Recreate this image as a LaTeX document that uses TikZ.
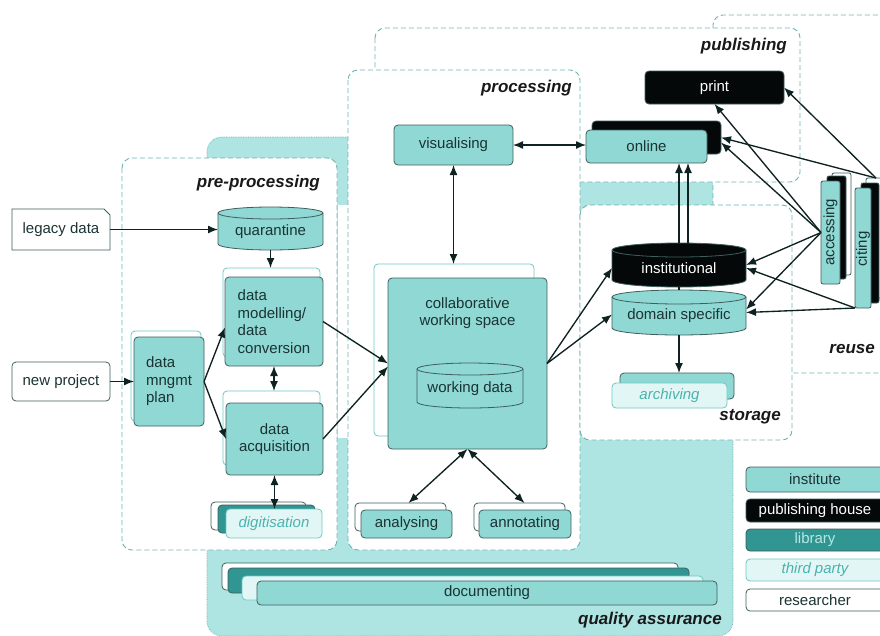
\documentclass[tikz,border=0pt]{standalone}
\usepackage{fontspec}
\setmainfont{Liberation Sans}
\usetikzlibrary{arrows.meta,calc}
\definecolor{inst}{HTML}{8FD8D4}
\definecolor{qa}{HTML}{AEE4E2}
\definecolor{lib}{HTML}{319592}
\definecolor{libtext}{HTML}{B5E8E5}
\definecolor{tpfill}{HTML}{E2F6F5}
\definecolor{tpline}{HTML}{6CCAC6}
\definecolor{tptext}{HTML}{4BB3AF}
\definecolor{bord}{HTML}{3E5F5E}
\definecolor{dashc}{HTML}{6FB3B1}
\definecolor{txt}{HTML}{1A3333}
\definecolor{arr}{HTML}{0F2222}
\definecolor{pub}{HTML}{050808}
\newcommand\fs{\fontsize{15}{17.5}\selectfont}
\newcommand\fl{\fontsize{17}{20}\selectfont}
\newcommand\bx[6]{\node[#1,minimum width={#4-#2},minimum height={#5-#3}] (#6) at ({(#2+#4)/2},{(#3+#5)/2})}
\newcommand\cyl[9]{%
 \filldraw[#1] (#2,{#3+#6}) -- (#2,{#5-#6}) arc[start angle=180,end angle=0,x radius={(#4-#2)/2},y radius=#6] -- (#4,{#3+#6}) arc[start angle=0,end angle=-180,x radius={(#4-#2)/2},y radius=#6] -- cycle;
 \draw[#1,fill=none] (#2,{#3+#6}) arc[start angle=180,end angle=0,x radius={(#4-#2)/2},y radius=#6];
 \node[inner sep=0pt,outer sep=0pt,minimum width={#4-#2},minimum height={#5-#3}] (#7) at ({(#2+#4)/2},{(#3+#5)/2}) {};
 \node[#8] (#7-t) at ({(#2+#4)/2},{(#3+#5)/2+#6/2}) {#9};
}
\tikzset{
 box/.style={draw=bord,line width=0.8pt,rounded corners=4pt,inner sep=0pt,outer sep=0pt,text=txt,font=\fs,align=center},
 institute/.style={box,fill=inst},
 publisher/.style={box,fill=pub,text=white},
 library/.style={box,fill=lib,text=libtext},
 thirdparty/.style={box,fill=tpfill,draw=tpline,text=tptext,font=\fs\itshape},
 researcher/.style={box,fill=white},
 backbox/.style={box,fill=white,draw=tpline},
 container/.style={draw=dashc,dash pattern=on 5pt off 3pt,line width=0.9pt,fill=white,rounded corners=10pt},
 qaregion/.style={fill=qa,draw=dashc,densely dotted,line width=0.7pt,rounded corners=15pt},
 clabel/.style={font=\fl\bfseries\itshape,text=black!90,anchor=east,inner sep=0pt},
 txtnode/.style={inner sep=0pt,outer sep=0pt,text=txt,font=\fs,align=center},
 cylI/.style={fill=inst,draw=bord,line width=0.8pt},
 cylP/.style={fill=pub,draw=bord,line width=0.8pt},
 conn/.style={draw=arr,line width=1.35pt,-{Latex[length=10pt,width=8pt]}},
 dconn/.style={conn,{Latex[length=10pt,width=8pt]}-{Latex[length=10pt,width=8pt]}},
 plainconn/.style={draw=arr,line width=1.35pt}
}
\begin{document}
\begin{tikzpicture}[x=1pt,y=-1pt]
\useasboundingbox[fill=white] (0,0) rectangle (880,635);
% regions
\draw[qaregion] (207,137) rectangle (733,636);
\fill[white] (337.5,205) rectangle (347.5,438);
\draw[container] (713,15) rectangle (905,373);
\draw[container] (375,28) rectangle (800,182);
\draw[container] (348,70) rectangle (580,550);
\draw[container] (122,158) rectangle (337,550);
\draw[container] (580,205) rectangle (792,440);
% region labels
\node[clabel] (lpre) at (320,183) {pre-processing};
\node[clabel] (lproc) at (572,88) {processing};
\node[clabel] (lpub) at (787,46) {publishing};
\node[clabel] (lsto) at (781,417) {storage};
\node[clabel] (lreuse) at (875,349) {reuse};
\node[clabel] (lqa) at (722,620) {quality assurance};
% researcher inputs
\filldraw[fill=white,draw=bord,line width=0.8pt] (12,209) -- (104,209) -- (110,215) -- (110,250) -- (12,250) -- cycle;
\bx{txtnode}{12}{209}{110}{250}{legacy}{legacy data};
\bx{researcher}{12}{362}{110}{401}{newp}{new project};
% pre-processing
\cyl{cylI}{218}{207}{323}{250}{6}{quar}{txtnode}{quarantine}
\bx{backbox}{131}{331}{201}{421}{dmpb}{};
\bx{institute,align=left}{134}{337}{204}{426}{dmp}{data\\mngmt\\plan};
\bx{backbox}{223}{268}{320}{357}{dmodelb}{};
\bx{institute,align=left}{225}{277}{323}{366}{dmodel}{data\\modelling/\\data\\conversion};
\bx{backbox}{223}{391}{320}{465}{dacqb}{};
\bx{institute}{226}{403}{323}{475}{dacq}{data\\acquisition};
\bx{researcher}{211}{502}{306}{530}{digib}{};
\bx{library}{218}{505}{315}{533}{digil}{};
\bx{thirdparty}{226}{509}{322}{538}{digi}{digitisation};
% processing
\bx{institute}{394}{125}{513}{165}{vis}{visualising};
\bx{backbox}{374}{264}{534}{436}{collabb}{};
\bx{institute}{388}{278}{547}{449}{collab}{};
\node[txtnode] (collabt) at (467.5,313) {collaborative\\working space};
\cyl{cylI}{417}{363}{523}{408}{6}{wdata}{txtnode}{working data}
\bx{researcher}{355}{503}{446}{531}{anab}{};
\bx{institute}{361}{510}{452}{538}{ana}{analysing};
\bx{researcher}{474}{503}{565}{531}{annb}{};
\bx{institute}{479}{510}{571}{538}{ann}{annotating};
% documenting
\bx{researcher}{222}{563}{678}{590}{docb}{};
\bx{library}{228}{568}{689}{593}{docl}{};
\bx{thirdparty}{242}{576}{703}{600}{doct}{};
\bx{institute}{257}{581}{717}{605}{doc}{documenting};
% publishing
\bx{publisher}{645}{71}{784}{104}{print}{print};
\bx{publisher}{592}{121}{721}{154}{onlineb}{};
\bx{institute}{586}{130}{707}{163}{online}{online};
% storage
\cyl{cylI}{612}{290}{746}{335}{7}{dom}{txtnode}{domain specific}
\cyl{cylP}{612}{243}{746}{287}{7}{inst}{txtnode,text=white}{institutional}
\bx{institute}{620}{373}{734}{399}{archb}{};
\bx{thirdparty}{612}{383}{727}{408}{arch}{archiving};
% reuse
\bx{researcher,rounded corners=2pt}{832}{173}{851}{275}{accb}{};
\bx{publisher,rounded corners=2pt}{827}{176}{846}{279}{accp}{};
\bx{institute,rounded corners=2pt}{821}{181}{840}{284}{acc}{};
\node[txtnode,rotate=90] (acct) at (830.5,232) {accessing};
\bx{researcher,rounded corners=2pt}{866}{178}{886}{298}{citeb}{};
\bx{publisher,rounded corners=2pt}{861}{183}{879}{303}{citep}{};
\bx{institute,rounded corners=2pt}{855}{188}{871}{308}{cite}{};
\node[txtnode,rotate=90] (citet) at (863,249) {citing};
% legend
\bx{institute}{746}{467}{884}{492}{leginst}{};
\node[txtnode] (leginstt) at (815,479.5) {institute};
\bx{publisher}{746}{499}{884}{522}{legpub}{};
\node[txtnode,text=white] (legpubt) at (815,510.5) {publishing house};
\bx{library}{746}{529}{884}{551}{leglib}{};
\node[txtnode,text=libtext] (leglibt) at (815,540) {library};
\bx{thirdparty}{746}{559}{884}{581}{legtp}{};
\node[txtnode,text=tptext,font=\fs\itshape] (legtpt) at (815,570) {third party};
\bx{researcher}{746}{589}{884}{611}{legres}{};
\node[txtnode] (legrest) at (815,600) {researcher};
% connectors
\draw[conn] (legacy.east) -- (legacy.east -| quar.west);
\draw[conn] (newp.east) -- (newp.east -| dmp.west);
\draw[conn] (quar.south) -- (quar.south |- dmodelb.north);
\draw[conn] (dmp.east) -- ([yshift=-6pt]dmodel.west);
\draw[conn] (dmp.east) -- (dacq.west);
\draw[dconn] (dmodel.south) -- (dmodel.south |- dacqb.north);
\draw[dconn] (dacq.south) -- (dacq.south |- digi.north);
\draw[conn] (dmodel.east) -- (collab.west);
\draw[conn] (dacq.east) -- ([yshift=-3pt]collab.west);
\draw[dconn] (vis.east) -- (vis.east -| online.west);
\draw[dconn] (vis.south) -- (vis.south |- collabb.north);
\draw[dconn] (collab.south) -- ([xshift=8pt]anab.north);
\draw[dconn] (collab.south) -- ([xshift=5pt]annb.north);
\draw[conn] (collab.east) -- ([yshift=-3pt]inst.west);
\draw[conn] (collab.east) -- ([yshift=-2pt]dom.west);
\draw[conn] (inst.north) -- (inst.north |- online.south);
\coordinate (inst2) at ([xshift=9pt]inst.north);
\draw[conn] (inst2) -- (inst2 |- online.south);
\draw[plainconn] (inst.south) -- (dom.north);
\draw[conn] (dom.south) -- (dom.south |- archb.north);
\draw[conn] (acc.west) -- (print.south);
\draw[conn] (acc.west) -- ([yshift=-5pt]onlineb.east);
\draw[conn] (acc.west) -- (inst.east);
\draw[conn] (acc.west) -- ([yshift=3pt]dom.east);
\draw[conn] (citeb.north) -- (print.east);
\draw[conn] (citeb.north) -- (onlineb.east);
\draw[conn] (cite.south west) -- ([yshift=-3pt]inst.east);
\draw[conn] (cite.south west) -- (dom.east);
\end{tikzpicture}
\end{document}
